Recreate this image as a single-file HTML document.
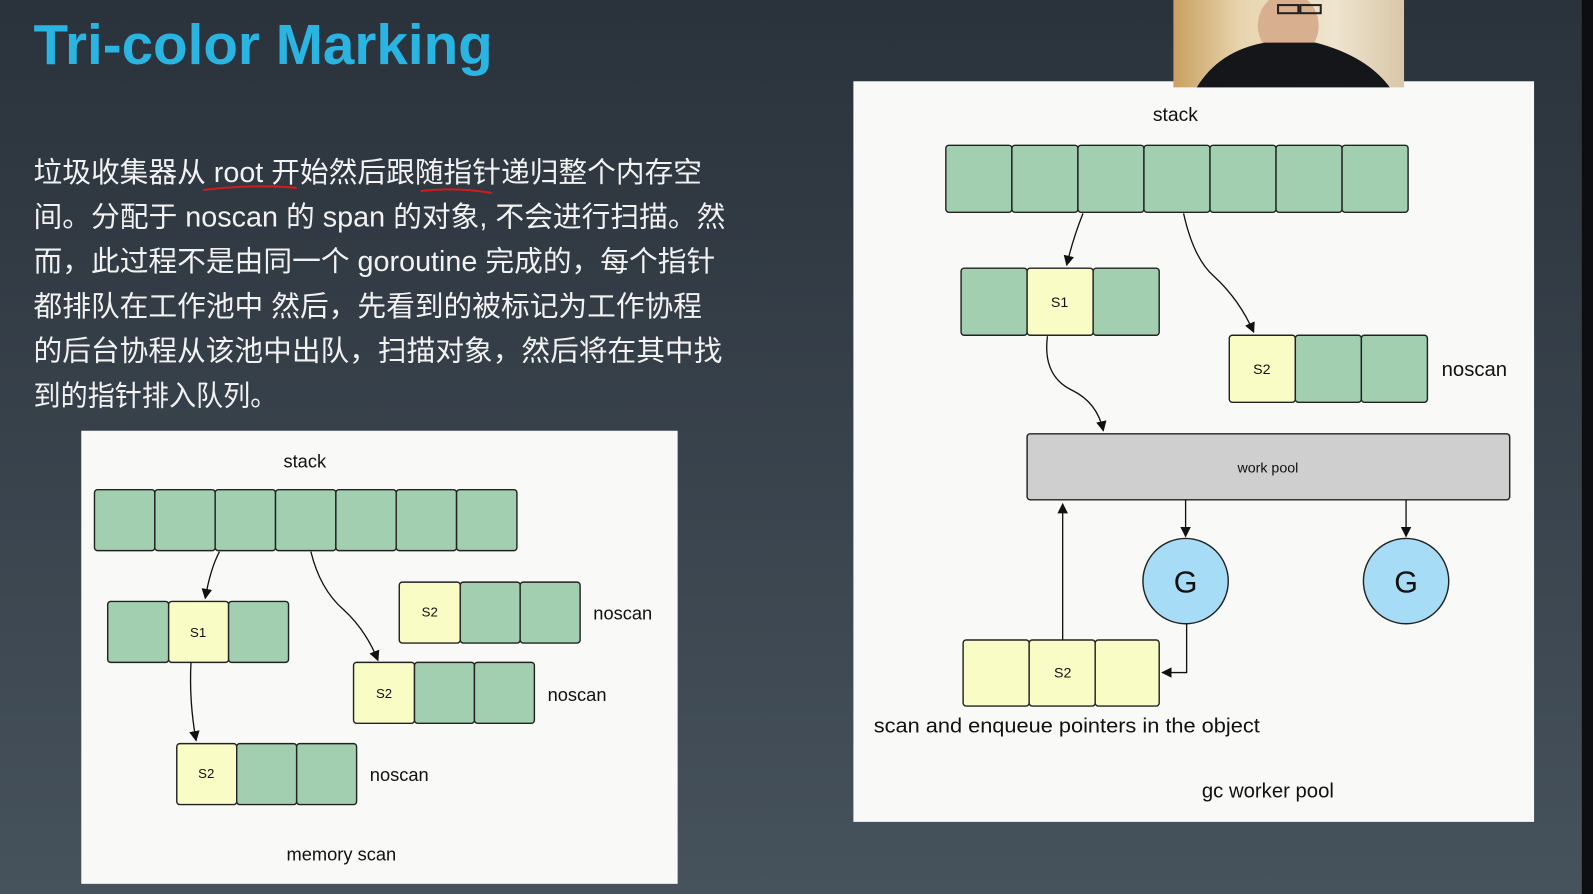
<!DOCTYPE html>
<html><head><meta charset="utf-8"><style>
html,body{margin:0;padding:0;width:1593px;height:894px;overflow:hidden;background:#333c46}
svg{display:block}
.g{fill:#a3cfb1;stroke:#222;stroke-width:1.4}
.y{fill:#fafcc6;stroke:#222;stroke-width:1.4}
.c{font-family:"Liberation Sans","Noto Sans CJK SC",sans-serif;fill:#f2f2f2;font-size:28px}
.t{font-family:"Liberation Sans",sans-serif;fill:#111}
.a{fill:none;stroke:#111;stroke-width:1.3}
</style></head><body>
<svg width="1593" height="894" viewBox="0 0 1568 880" preserveAspectRatio="none">
<defs>
<linearGradient id="bg" x1="0" y1="0" x2="0" y2="1"><stop offset="0" stop-color="#2a323b"/><stop offset="1" stop-color="#46525c"/></linearGradient>
<marker id="m" viewBox="0 0 10 10" refX="9" refY="5" markerWidth="8" markerHeight="8" orient="auto"><path d="M0,0L10,5L0,10z" fill="#111"/></marker>
<linearGradient id="cam" x1="0" y1="0" x2="1" y2="0"><stop offset="0" stop-color="#c9a060"/><stop offset="0.3" stop-color="#e8d6b0"/><stop offset="0.7" stop-color="#efe4cf"/><stop offset="1" stop-color="#d8c7a8"/></linearGradient>
</defs>
<rect width="1568" height="880" fill="url(#bg)"/>
<rect x="1557" y="0" width="11" height="880" fill="#0c0e10"/>
<text x="33" y="63" font-family="Liberation Sans,sans-serif" font-weight="bold" font-size="56" fill="#2ab4e2" textLength="452" lengthAdjust="spacingAndGlyphs">Tri-color Marking</text>

<g class="c">
<text x="33" y="179" textLength="658" lengthAdjust="spacingAndGlyphs">垃圾收集器从 root 开始然后跟随指针递归整个内存空</text>
<text x="33" y="223" textLength="681" lengthAdjust="spacingAndGlyphs">间。分配于 noscan 的 span 的对象, 不会进行扫描。然</text>
<text x="33" y="267" textLength="671" lengthAdjust="spacingAndGlyphs">而，此过程不是由同一个 goroutine 完成的，每个指针</text>
<text x="33" y="311" textLength="658" lengthAdjust="spacingAndGlyphs">都排队在工作池中 然后，先看到的被标记为工作协程</text>
<text x="33" y="355" textLength="678" lengthAdjust="spacingAndGlyphs">的后台协程从该池中出队，扫描对象，然后将在其中找</text>
<text x="33" y="399" textLength="240" lengthAdjust="spacingAndGlyphs">到的指针排入队列。</text>
</g>
<path d="M200,187 Q250,181 292,185" stroke="#d01c1c" stroke-width="2" fill="none"/>
<path d="M414,188 Q450,184 484,190" stroke="#d01c1c" stroke-width="2" fill="none"/>

<!-- left panel -->
<rect x="80" y="424" width="587" height="446" fill="#f9f9f8"/>
<text class="t" x="300" y="460" font-size="18" text-anchor="middle">stack</text>
<g>
<rect class="g" x="93" y="482" width="59.4" height="60" rx="3"/>
<rect class="g" x="152.4" y="482" width="59.4" height="60" rx="3"/>
<rect class="g" x="211.8" y="482" width="59.4" height="60" rx="3"/>
<rect class="g" x="271.2" y="482" width="59.4" height="60" rx="3"/>
<rect class="g" x="330.6" y="482" width="59.4" height="60" rx="3"/>
<rect class="g" x="390" y="482" width="59.4" height="60" rx="3"/>
<rect class="g" x="449.4" y="482" width="59.4" height="60" rx="3"/>
</g>
<rect class="g" x="106" y="592" width="60" height="60" rx="3"/>
<rect class="y" x="166" y="592" width="59" height="60" rx="3"/>
<rect class="g" x="225" y="592" width="59" height="60" rx="3"/>
<text class="t" x="195" y="627" font-size="13" text-anchor="middle">S1</text>
<rect class="y" x="393" y="573" width="60" height="60" rx="3"/>
<rect class="g" x="453" y="573" width="59" height="60" rx="3"/>
<rect class="g" x="512" y="573" width="59" height="60" rx="3"/>
<text class="t" x="423" y="607" font-size="13" text-anchor="middle">S2</text>
<text class="t" x="584" y="610" font-size="18">noscan</text>
<rect class="y" x="348" y="652" width="60" height="60" rx="3"/>
<rect class="g" x="408" y="652" width="59" height="60" rx="3"/>
<rect class="g" x="467" y="652" width="59" height="60" rx="3"/>
<text class="t" x="378" y="687" font-size="13" text-anchor="middle">S2</text>
<text class="t" x="539" y="690" font-size="18">noscan</text>
<rect class="y" x="174" y="732" width="59" height="60" rx="3"/>
<rect class="g" x="233" y="732" width="59" height="60" rx="3"/>
<rect class="g" x="292" y="732" width="59" height="60" rx="3"/>
<text class="t" x="203" y="766" font-size="13" text-anchor="middle">S2</text>
<text class="t" x="364" y="769" font-size="18">noscan</text>
<text class="t" x="336" y="847" font-size="18" text-anchor="middle">memory scan</text>
<path class="a" d="M216,543 Q207,560 202,589" marker-end="url(#m)"/>
<path class="a" d="M306,543 Q315,580 338,600 Q360,620 372,650" marker-end="url(#m)"/>
<path class="a" d="M188,652 Q186,690 193,729" marker-end="url(#m)"/>

<!-- right panel -->
<rect x="840" y="80" width="670" height="729" fill="#f9f9f8"/>
<rect x="1155" y="0" width="227" height="86" fill="url(#cam)"/>
<ellipse cx="1268" cy="25" rx="30" ry="32" fill="#d9b08f"/>
<path d="M1178,86 Q1200,50 1245,42 L1295,42 Q1345,55 1368,86 Z" fill="#14161a"/>
<rect x="1258" y="5" width="20" height="8" fill="none" stroke="#222" stroke-width="2"/>
<rect x="1280" y="5" width="20" height="8" fill="none" stroke="#222" stroke-width="2"/>
<text class="t" x="1157" y="119" font-size="19" text-anchor="middle">stack</text>
<g>
<rect class="g" x="931" y="143" width="65" height="66" rx="3"/>
<rect class="g" x="996" y="143" width="65" height="66" rx="3"/>
<rect class="g" x="1061" y="143" width="65" height="66" rx="3"/>
<rect class="g" x="1126" y="143" width="65" height="66" rx="3"/>
<rect class="g" x="1191" y="143" width="65" height="66" rx="3"/>
<rect class="g" x="1256" y="143" width="65" height="66" rx="3"/>
<rect class="g" x="1321" y="143" width="65" height="66" rx="3"/>
</g>
<rect class="g" x="946" y="264" width="65" height="66" rx="3"/>
<rect class="y" x="1011" y="264" width="65" height="66" rx="3"/>
<rect class="g" x="1076" y="264" width="65" height="66" rx="3"/>
<text class="t" x="1043" y="302" font-size="14" text-anchor="middle">S1</text>
<rect class="y" x="1210" y="330" width="65" height="66" rx="3"/>
<rect class="g" x="1275" y="330" width="65" height="66" rx="3"/>
<rect class="g" x="1340" y="330" width="65" height="66" rx="3"/>
<text class="t" x="1242" y="368" font-size="14" text-anchor="middle">S2</text>
<text class="t" x="1419" y="370" font-size="20">noscan</text>
<rect x="1011" y="427" width="475" height="65" rx="3" fill="#cfcfcf" stroke="#222" stroke-width="1.4"/>
<text class="t" x="1248" y="465" font-size="14" text-anchor="middle">work pool</text>
<circle cx="1167" cy="572" r="42" fill="#a6dcf6" stroke="#222" stroke-width="1.4"/>
<circle cx="1384" cy="572" r="42" fill="#a6dcf6" stroke="#222" stroke-width="1.4"/>
<text class="t" x="1167" y="583" font-size="30" text-anchor="middle">G</text>
<text class="t" x="1384" y="583" font-size="30" text-anchor="middle">G</text>
<rect class="y" x="948" y="630" width="65" height="65" rx="3"/>
<rect class="y" x="1013" y="630" width="65" height="65" rx="3"/>
<rect class="y" x="1078" y="630" width="63" height="65" rx="3"/>
<text class="t" x="1046" y="667" font-size="14" text-anchor="middle">S2</text>
<text class="t" x="860" y="721" font-size="20" textLength="380" lengthAdjust="spacingAndGlyphs">scan and enqueue pointers in the object</text>
<text class="t" x="1248" y="785" font-size="20" text-anchor="middle">gc worker pool</text>
<path class="a" d="M1066,210 Q1056,235 1050,261" marker-end="url(#m)"/>
<path class="a" d="M1165,210 Q1175,255 1195,272 Q1220,295 1234,327" marker-end="url(#m)"/>
<path class="a" d="M1031,331 Q1026,370 1055,384 Q1080,396 1086,424" marker-end="url(#m)"/>
<path class="a" d="M1046,630 L1046,496" marker-end="url(#m)"/>
<path class="a" d="M1167,492 L1167,528" marker-end="url(#m)"/>
<path class="a" d="M1384,492 L1384,528" marker-end="url(#m)"/>
<path class="a" d="M1168,614 L1168,662 L1144,662" marker-end="url(#m)"/>
</svg>
</body></html>
